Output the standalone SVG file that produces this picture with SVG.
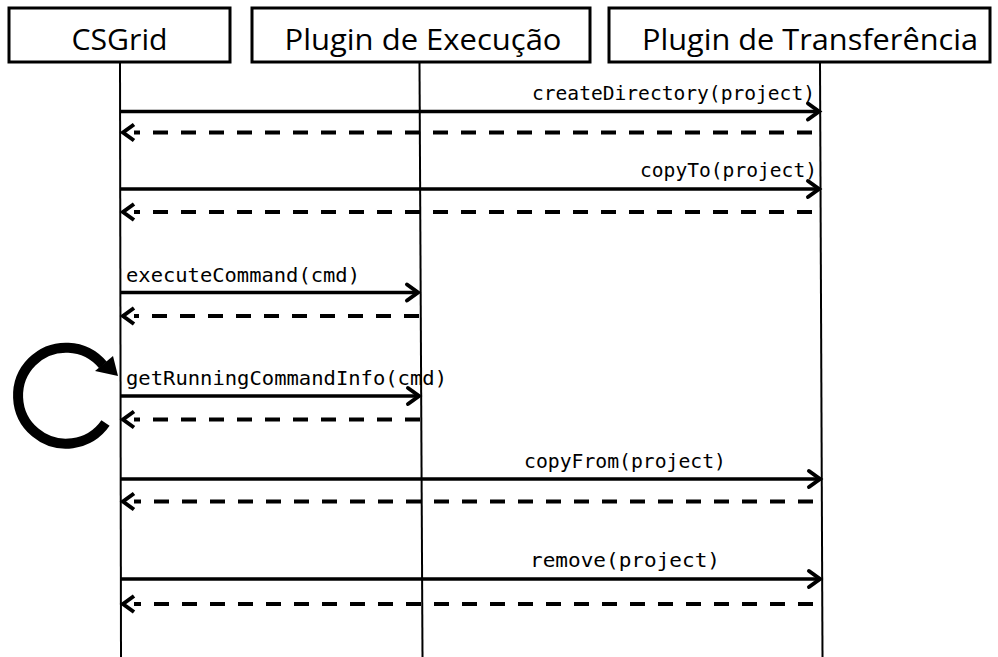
<svg xmlns="http://www.w3.org/2000/svg" width="998" height="657" viewBox="0 0 998 657">
  <style>
    .box { fill: #fff; stroke: #000; stroke-width: 3; }
    .title { font-family: "Open Sans", "Liberation Sans", sans-serif; font-size: 29px; fill: #000; text-anchor: middle; }
    .life { stroke: #000; stroke-width: 2; fill: none; }
    .call { stroke: #000; stroke-width: 3.5; fill: none; marker-end: url(#head); }
    .reply { stroke: #000; stroke-width: 4; fill: none; stroke-dasharray: 15 13; }
    .msg { font-family: "DejaVu Sans Mono", "Liberation Mono", monospace; font-size: 19px; fill: #000; }
  </style>
  <defs>
    <marker id="head" markerUnits="userSpaceOnUse" viewBox="-14 -10 16 20" refX="0" refY="0" markerWidth="16" markerHeight="20" orient="auto" overflow="visible">
      <path d="M-11,-8 L0,0 L-11,8" fill="none" stroke="#000" stroke-width="4" stroke-linecap="round" stroke-linejoin="miter"/>
    </marker>
  </defs>
  <rect width="998" height="657" fill="#fff"/>

  <!-- participants -->
  <g id="csgrid">
    <rect class="box" x="9" y="8" width="221" height="54"/>
    <text class="title" x="119.5" y="50" textLength="96" lengthAdjust="spacingAndGlyphs">CSGrid</text>
    <line class="life" x1="120" y1="63" x2="121" y2="657"/>
  </g>
  <g id="plugin-execucao">
    <rect class="box" x="252" y="8" width="338" height="54"/>
    <text class="title" x="423" y="50" textLength="277" lengthAdjust="spacingAndGlyphs">Plugin de Execução</text>
    <line class="life" x1="419.5" y1="63" x2="422.5" y2="657"/>
  </g>
  <g id="plugin-transferencia">
    <rect class="box" x="609" y="8" width="381" height="54"/>
    <text class="title" x="810" y="50" textLength="336" lengthAdjust="spacingAndGlyphs">Plugin de Transferência</text>
    <line class="life" x1="820" y1="63" x2="822.5" y2="657"/>
  </g>

  <!-- loop symbol beside the polling call -->
  <g id="loop">
    <path d="M105.5,423 A48,48 0 1 1 103,365" fill="none" stroke="#000" stroke-width="10"/>
    <path d="M118,376 L95,371 L113,356 Z" fill="#000"/>
  </g>

  <!-- messages -->
  <g id="connectors">
    <line class="call" x1="121" y1="111.5" x2="819" y2="111.5"/>
    <line class="reply" x1="812" y1="132.5" x2="134" y2="132.5"/>
    <path d="M134,124.5 L123,132.5 L134,140.5" fill="none" stroke="#000" stroke-width="4"/>

    <line class="call" x1="121" y1="189" x2="819" y2="189"/>
    <line class="reply" x1="812" y1="212" x2="134" y2="212"/>
    <path d="M134,204 L123,212 L134,220" fill="none" stroke="#000" stroke-width="4"/>

    <line class="call" x1="121" y1="292.5" x2="418" y2="292.5"/>
    <line class="reply" x1="419" y1="316" x2="134" y2="316"/>
    <path d="M134,308 L123,316 L134,324" fill="none" stroke="#000" stroke-width="4"/>

    <line class="call" x1="121" y1="396" x2="419" y2="396"/>
    <line class="reply" x1="420" y1="419.5" x2="134" y2="419.5"/>
    <path d="M134,411.5 L123,419.5 L134,427.5" fill="none" stroke="#000" stroke-width="4"/>

    <line class="call" x1="121" y1="479" x2="820" y2="479"/>
    <line class="reply" x1="813" y1="501.5" x2="134" y2="501.5"/>
    <path d="M134,493.5 L123,501.5 L134,509.5" fill="none" stroke="#000" stroke-width="4"/>

    <line class="call" x1="121" y1="579" x2="820" y2="579"/>
    <line class="reply" x1="813" y1="604" x2="134" y2="604"/>
    <path d="M134,596 L123,604 L134,612" fill="none" stroke="#000" stroke-width="4"/>
  </g>

  <!-- message labels -->
  <g id="labels">
    <text class="msg" x="532" y="100" textLength="283" lengthAdjust="spacingAndGlyphs">createDirectory(project)</text>
    <text class="msg" x="640" y="177" textLength="177" lengthAdjust="spacingAndGlyphs">copyTo(project)</text>
    <text class="msg" x="126" y="282" textLength="234" lengthAdjust="spacingAndGlyphs">executeCommand(cmd)</text>
    <text class="msg" x="126" y="385" textLength="321" lengthAdjust="spacingAndGlyphs">getRunningCommandInfo(cmd)</text>
    <text class="msg" x="524" y="468" textLength="202" lengthAdjust="spacingAndGlyphs">copyFrom(project)</text>
    <text class="msg" x="530" y="567" textLength="190" lengthAdjust="spacingAndGlyphs">remove(project)</text>
  </g>
</svg>
